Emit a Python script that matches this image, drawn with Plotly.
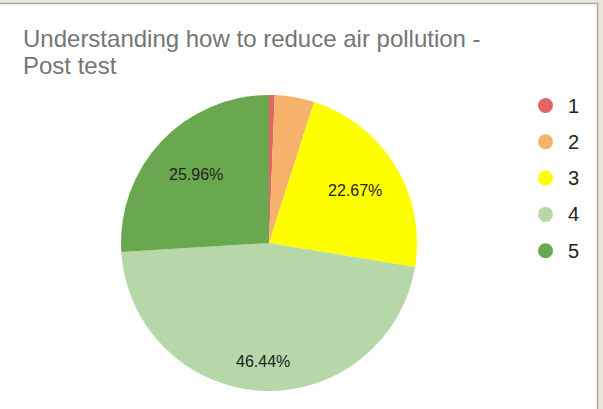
import math
import plotly.graph_objects as go

# Survey answers (rating 1-5) and their share of responses, in percent
categories = ["1", "2", "3", "4", "5"]
shares = [0.62, 4.31, 22.67, 46.44, 25.96]
colors = ["#e06666", "#f6b26b", "#ffff00", "#b6d7a8", "#6aa84f"]

title_lines = ["Understanding how to reduce air pollution -", "Post test"]

W, H = 603, 409
FONT = "Liberation Sans, Arial, sans-serif"

# pie geometry in pixels
cx, cy, r = 269, 243, 148
# radial position of each slice label (fraction of radius)
label_radius = [0.68, 0.68, 0.68, 0.80, 0.68]


def px(x):
    return x / W


def py(y):
    return 1 - y / H


fig = go.Figure()
fig.add_trace(go.Pie(
    labels=categories,
    values=shares,
    sort=False,
    direction="clockwise",
    rotation=0,
    marker=dict(colors=colors, line=dict(width=0)),
    textinfo="none",
    hoverinfo="label+percent",
    showlegend=False,
    domain=dict(x=[px(cx - r), px(cx + r)], y=[py(cy + r), py(cy - r)]),
))

annotations = []
shapes = []

# white card with thin grey frame on a beige page
shapes.append(dict(type="rect", xref="paper", yref="paper",
                   x0=px(-2), x1=px(597.5), y0=py(412), y1=py(3.5),
                   fillcolor="white", line=dict(color="#a9a9a9", width=1.5),
                   layer="below"))

# slice labels at the middle angle of each slice
total = sum(shares)
start = 0.0
for val, rf in zip(shares, label_radius):
    frac = val / total
    mid = (start + frac / 2) * 2 * math.pi
    start += frac
    if frac < 0.05:
        continue
    lx = cx + r * rf * math.sin(mid)
    ly = cy - r * rf * math.cos(mid)
    annotations.append(dict(
        x=px(lx), y=py(ly), xref="paper", yref="paper",
        text=f"{frac * 100:.2f}%", showarrow=False,
        xanchor="center", yanchor="middle",
        font=dict(family=FONT, size=16, color="#222222")))

# title, two lines
for i, line in enumerate(title_lines):
    annotations.append(dict(
        x=px(21), y=py(38.5 + 27.5 * i), xref="paper", yref="paper",
        text=line, showarrow=False, xanchor="left", yanchor="middle",
        font=dict(family=FONT, size=24, color="#757575")))

# legend with round markers
leg_x, leg_y0, leg_dy, dot_r = 545.5, 105.5, 36.3, 7.5
for i, (cat, col) in enumerate(zip(categories, colors)):
    yy = leg_y0 + i * leg_dy
    shapes.append(dict(type="circle", xref="paper", yref="paper",
                       x0=px(leg_x - dot_r), x1=px(leg_x + dot_r),
                       y0=py(yy + dot_r), y1=py(yy - dot_r),
                       fillcolor=col, line=dict(width=0)))
    annotations.append(dict(
        x=px(565.5), y=py(yy), xref="paper", yref="paper",
        text=cat, showarrow=False, xanchor="left", yanchor="middle",
        font=dict(family=FONT, size=20, color="#222222")))

fig.update_layout(
    width=W, height=H,
    margin=dict(l=0, r=0, t=0, b=0),
    paper_bgcolor="#e9e6dc",
    plot_bgcolor="white",
    annotations=annotations,
    shapes=shapes,
    showlegend=False,
)

fig.write_html("out.html")
